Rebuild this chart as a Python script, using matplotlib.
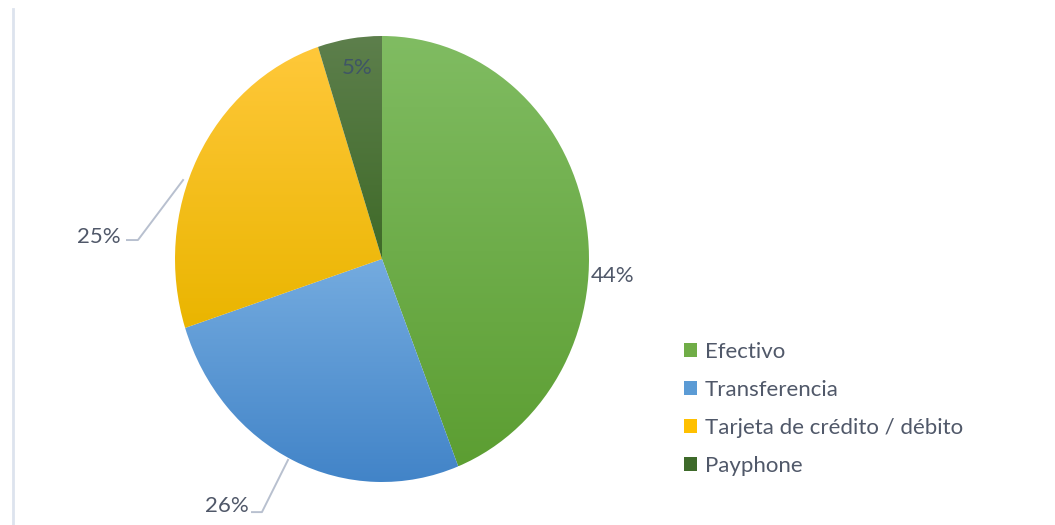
import numpy as np
import matplotlib.pyplot as plt
from matplotlib.patches import Patch
from matplotlib.colors import LinearSegmentedColormap
from matplotlib.lines import Line2D

# payment methods share (%)
labels = ["Efectivo", "Transferencia", "Tarjeta de crédito / débito", "Payphone"]
values = [44, 26, 25, 5]
base_colors = ["#70ad47", "#5b9bd5", "#ffc000", "#3e6a2a"]
# light (top) / dark (bottom) gradient ends for each slice
top_colors = ["#80bc62", "#74abdf", "#ffc83a", "#5d7f4c"]
bottom_colors = ["#5c9e32", "#4284c8", "#eab500", "#3f6a28"]

plt.rcParams['font.family'] = ['Lato', 'DejaVu Sans']
text_color = "#505869"
line_color = "#b8c0cf"

fig = plt.figure(figsize=(10.55, 5.25), dpi=100)
# pie area is a little taller than wide
ax = fig.add_axes([175 / 1055, 43 / 525, 414 / 1055, 446 / 525])

wedges, _ = ax.pie(values, startangle=90, counterclock=False, colors=base_colors,
                   wedgeprops=dict(linewidth=0))
ax.set_aspect('auto')
ax.axis('off')

# vertical gradient fill clipped to every wedge
grad = np.linspace(0, 1, 256).reshape(-1, 1)
for w, c1, c2 in zip(wedges, top_colors, bottom_colors):
    ext = w.get_path().get_extents()
    cmap = LinearSegmentedColormap.from_list("g", [c2, c1])
    im = ax.imshow(grad, cmap=cmap, origin='lower', aspect='auto',
                   extent=[ext.x0, ext.x1, ext.y0, ext.y1], zorder=w.get_zorder())
    im.set_clip_path(w)
    w.set_facecolor('none')
ax.set_xlim(-1, 1)
ax.set_ylim(-1, 1)

pct = [f"{v}%" for v in values]
fs = 16
ax.text(1.01, -0.076, pct[0], ha='left', va='center', fontsize=fs, color=text_color, clip_on=False)
ax.text(-0.121, 0.857, pct[3], ha='center', va='center', fontsize=fs, color="#3f5566", clip_on=False)

# leader lines for the outside labels
ax.plot([-1.232, -1.179, -0.961], [0.085, 0.085, 0.354], color=line_color, lw=1.4, clip_on=False)
ax.text(-1.262, 0.098, pct[2], ha='right', va='center', fontsize=fs, color=text_color, clip_on=False)
ax.plot([-0.628, -0.580, -0.454], [-1.135, -1.135, -0.901], color=line_color, lw=1.4, clip_on=False)
ax.text(-0.645, -1.108, pct[1], ha='right', va='center', fontsize=fs, color=text_color, clip_on=False)

# thin border line at the left
fig.add_artist(Line2D([12.5 / 1055, 12.5 / 1055], [0, 516 / 525], color="#dde3ee", lw=2))

handles = [Patch(facecolor=c, edgecolor='none') for c in base_colors]
leg = fig.legend(handles, labels, loc='upper left', bbox_to_anchor=(668 / 1055, 1 - 326 / 525),
                 frameon=False, fontsize=fs, handlelength=0.6, handleheight=0.6,
                 handletextpad=0.35, labelspacing=0.82, borderpad=0.2)
for t in leg.get_texts():
    t.set_color(text_color)

plt.savefig("out.png", dpi=100)
